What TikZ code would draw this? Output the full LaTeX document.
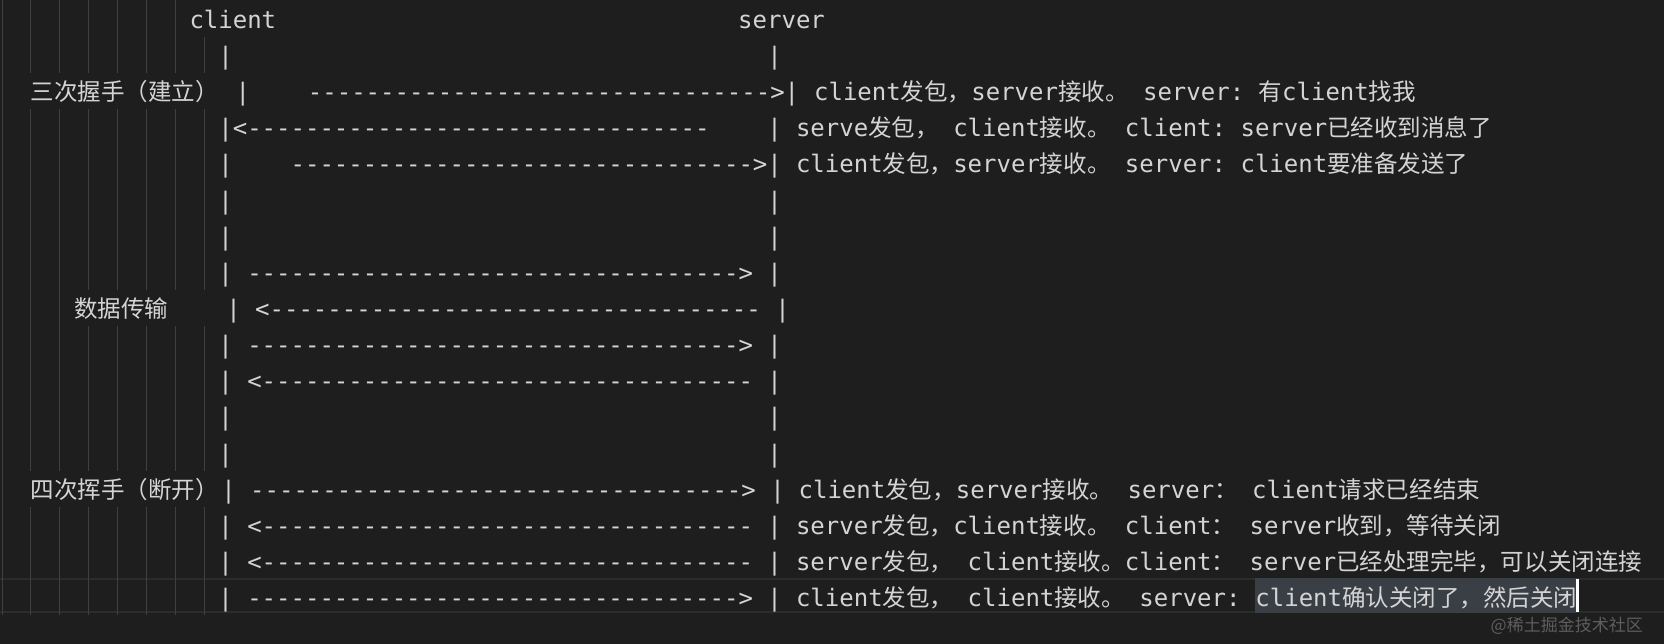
\documentclass[tikz,border=0pt]{standalone}
\usepackage{fontspec}
\setmonofont{DejaVu Sans Mono}
\newfontfamily\cjk[Scale=0.98]{Noto Sans CJK SC}
\newfontfamily\wmfont{Noto Sans CJK SC}
\definecolor{bg}{HTML}{1E1E1E}
\definecolor{fg}{HTML}{D4D4D4}
\definecolor{guide}{HTML}{404040}
\definecolor{sel}{HTML}{3A3F46}
\definecolor{curline}{HTML}{2C2C2C}
\definecolor{wm}{HTML}{5E5E5E}
\newcommand\C[1]{{\cjk #1}}
\ExplSyntaxOn
\NewDocumentCommand\dashes{m}{\prg_replicate:nn{#1}{-\kern0pt}}
\NewDocumentCommand\sps{m}{\prg_replicate:nn{#1}{\nobreakspace}}
\ExplSyntaxOff
\frenchspacing
\tikzset{
  txt/.style={anchor=base west, inner sep=0pt, text=fg, font=\ttfamily\fontsize{24}{36}\selectfont},
  guideline/.style={draw=guide, line width=1pt},
  selbox/.style={txt, fill=sel, text height=28.4pt, text depth=6.6pt},
  cursorline/.style={draw=white, line width=2.5pt},
  curbox/.style={draw=curline, line width=2pt},
  wmark/.style={anchor=base east, inner sep=0pt, text=wm, font=\wmfont\fontsize{17}{20}\selectfont}
}
\begin{document}
\begin{tikzpicture}[x=1pt,y=-1pt]
\fill[bg] (0,0) rectangle (1664,644);
\useasboundingbox (0,0) rectangle (1664,644);
% current line highlight
\draw[curbox] (-2,579) rectangle (1666,612);
% indent guides
\draw[guideline] (2,0) -- (2,615.4);
\foreach \gx in {30.9,59.8} {
  \draw[guideline] (\gx,0) -- (\gx,73.2);
  \draw[guideline] (\gx,109.35) -- (\gx,470.85);
  \draw[guideline] (\gx,507) -- (\gx,615.4);
}
\foreach \gx in {88.6,117.5,146.4,175.3} {
  \draw[guideline] (\gx,0) -- (\gx,73.2);
  \draw[guideline] (\gx,109.35) -- (\gx,290.1);
  \draw[guideline] (\gx,326.25) -- (\gx,470.85);
  \draw[guideline] (\gx,507) -- (\gx,615.4);
}
\draw[guideline] (204.2,37.05) -- (204.2,73.2);
\draw[guideline] (204.2,109.35) -- (204.2,290.1);
\draw[guideline] (204.2,326.25) -- (204.2,470.85);
\draw[guideline] (204.2,507) -- (204.2,615.4);
% row 0
\node[txt] (hc) at (189.3,28.3) {client};
\node[txt] (hs) at (738.0,28.3) {server};
% row 1
\node[txt] (a1) at (218.2,64.45) {|\sps{37}|};
% row 2
\node[txt] (l2) at (30.5,100.6) {\C{三次握手（建立）}};
\node[txt] (a2) at (235.5,100.6) {|\sps{4}\dashes{32}>|};
\node[txt] (t2) at (813.9,100.6) {client\C{发包，}server\C{接收。}~server:~\C{有}client\C{找我}};
% row 3
\node[txt] (a3) at (218.2,136.75) {|<\dashes{32}\sps{4}|};
\node[txt] (t3) at (795.8,136.75) {serve\C{发包，}~client\C{接收。}~client:~server\C{已经收到消息了}};
% row 4
\node[txt] (a4) at (218.2,172.9) {|\sps{4}\dashes{32}>|};
\node[txt] (t4) at (795.8,172.9) {client\C{发包，}server\C{接收。}~server:~client\C{要准备发送了}};
% rows 5,6
\node[txt] (a5) at (218.2,209.05) {|\sps{37}|};
\node[txt] (a6) at (218.2,245.2) {|\sps{37}|};
% row 7
\node[txt] (a7) at (218.2,281.35) {|\sps{1}\dashes{34}>\sps{1}|};
% row 8
\node[txt] (l8) at (73.8,317.5) {\C{数据传输}};
\node[txt] (a8) at (226.1,317.5) {|\sps{1}<\dashes{34}\sps{1}|};
% row 9
\node[txt] (a9) at (218.2,353.65) {|\sps{1}\dashes{34}>\sps{1}|};
% row 10
\node[txt] (a10) at (218.2,389.8) {|\sps{1}<\dashes{34}\sps{1}|};
% rows 11,12
\node[txt] (a11) at (218.2,425.95) {|\sps{37}|};
\node[txt] (a12) at (218.2,462.1) {|\sps{37}|};
% row 13
\node[txt] (l13) at (30.5,498.25) {\C{四次挥手（断开）}};
\node[txt] (a13) at (221.1,498.25) {|\sps{1}\dashes{34}>\sps{1}|};
\node[txt] (t13) at (798.4,498.25) {client\C{发包，}server\C{接收。}~server\C{：}~client\C{请求已经结束}};
% row 14
\node[txt] (a14) at (218.2,534.4) {|\sps{1}<\dashes{34}\sps{1}|};
\node[txt] (t14) at (795.8,534.4) {server\C{发包，}client\C{接收。}~client\C{：}~server\C{收到，等待关闭}};
% row 15
\node[txt] (a15) at (218.2,570.55) {|\sps{1}<\dashes{34}\sps{1}|};
\node[txt] (t15) at (795.8,570.55) {server\C{发包，}~client\C{接收。}client\C{：}~server\C{已经处理完毕，可以关闭连接}};
% row 16
\node[txt] (a16) at (218.2,606.7) {|\sps{1}\dashes{34}>\sps{1}|};
\node[txt] (t16) at (795.8,606.7) {client\C{发包，}~client\C{接收。}~server:};
\node[selbox] (hl) at ([xshift=14.45pt]t16.base east) {client\C{确认关闭了，然后关闭}};
\draw[cursorline] ([yshift=-0.5pt]hl.north east) -- ([yshift=1.5pt]hl.south east);
% watermark
\node[wmark] (wm) at (1643,631) {@稀土掘金技术社区};
\end{tikzpicture}
\end{document}
